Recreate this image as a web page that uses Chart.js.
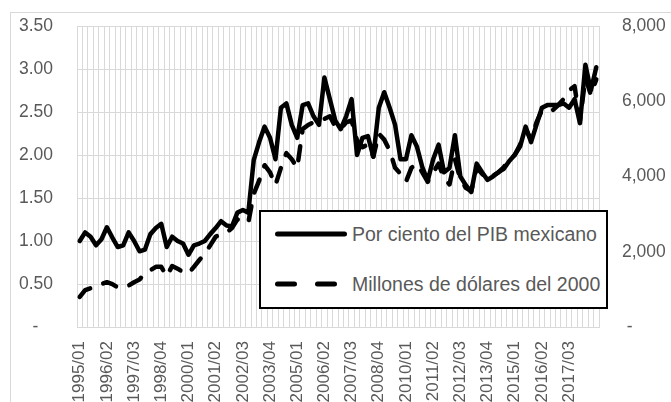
<!DOCTYPE html>
<html>
<head>
<meta charset="utf-8">
<script src="https://cdn.jsdelivr.net/npm/chart.js@4"></script>
<style>
  body { margin: 0; background: #fff; overflow: hidden; }
  #wrap { position: relative; width: 671px; height: 402px; overflow: hidden; }
  #frame { position: absolute; left: 10px; top: 12px; width: 700px; height: 420px; border: 1px solid #d9d9d9; }
  #c { position: absolute; left: 0; top: 0; }
  #legend { position: absolute; left: 259px; top: 210px; width: 345px; height: 95px; border: 2px solid #000; background: #fff;
            font-family: 'Liberation Sans', Arial, sans-serif; font-size: 19.5px; color: #595959; }
  .row { position: absolute; left: 14px; height: 30px; display: flex; align-items: center; white-space: nowrap; }
  .row svg { margin-right: 5px; }
</style>
</head>
<body>
<div id="wrap">
  <div id="frame"></div>
  <canvas id="c" width="671" height="402"></canvas>
  <div id="legend"></div>
</div>
<script>
var quarters = [
  '1995/01','1995/02','1995/03','1995/04','1996/01','1996/02','1996/03','1996/04',
  '1997/01','1997/02','1997/03','1997/04','1998/01','1998/02','1998/03','1998/04',
  '1999/01','1999/02','1999/03','1999/04','2000/01','2000/02','2000/03','2000/04',
  '2001/01','2001/02','2001/03','2001/04','2002/01','2002/02','2002/03','2002/04',
  '2003/01','2003/02','2003/03','2003/04','2004/01','2004/02','2004/03','2004/04',
  '2005/01','2005/02','2005/03','2005/04','2006/01','2006/02','2006/03','2006/04',
  '2007/01','2007/02','2007/03','2007/04','2008/01','2008/02','2008/03','2008/04',
  '2009/01','2009/02','2009/03','2009/04','2010/01','2010/02','2010/03','2010/04',
  '2011/01','2011/02','2011/03','2011/04','2012/01','2012/02','2012/03','2012/04',
  '2013/01','2013/02','2013/03','2013/04','2014/01','2014/02','2014/03','2014/04',
  '2015/01','2015/02','2015/03','2015/04','2016/01','2016/02','2016/03','2016/04',
  '2017/01','2017/02','2017/03','2017/04','2018/01','2018/02','2018/03','2018/04'
];

var seriesNames = ['Por ciento del PIB mexicano', 'Millones de dólares del 2000'];

// por ciento del PIB (eje izquierdo)
var porCientoPIB = [
  1.00, 1.10, 1.05, 0.95, 1.02, 1.16, 1.04, 0.93, 0.95, 1.10,
  1.00, 0.88, 0.90, 1.08, 1.15, 1.20, 0.93, 1.05, 1.00, 0.97,
  0.84, 0.95, 0.97, 1.00, 1.08, 1.15, 1.23, 1.18, 1.17, 1.33,
  1.36, 1.33, 1.94, 2.15, 2.33, 2.20, 1.95, 2.55, 2.60, 2.35,
  2.20, 2.58, 2.60, 2.45, 2.35, 2.90, 2.65, 2.40, 2.30, 2.45,
  2.65, 2.00, 2.20, 2.22, 1.98, 2.55, 2.73, 2.55, 2.35, 1.95,
  1.95, 2.23, 2.10, 1.86, 1.70, 1.95, 2.12, 1.80, 1.85, 2.23,
  1.75, 1.65, 1.57, 1.90, 1.80, 1.71, 1.75, 1.80, 1.84, 1.93,
  2.00, 2.10, 2.33, 2.15, 2.35, 2.55, 2.58, 2.58, 2.58, 2.60,
  2.55, 2.65, 2.37, 3.05, 2.75, 3.02
];

// millones de dolares del 2000 (eje derecho)
var millonesDolares = [
  800, 980, 1030, 1100, 1140, 1190, 1140, 1050, 1050, 1100,
  1190, 1260, 1440, 1510, 1600, 1600, 1350, 1620, 1550, 1460,
  1420, 1600, 1780, 1940, 2170, 2400, 2470, 2510, 2630, 2860,
  2790, 2770, 3540, 3890, 4300, 4110, 3770, 4230, 4620, 4460,
  4230, 5260, 5370, 5440, 5490, 5530, 5600, 5330, 5260, 5440,
  5490, 4960, 4780, 4850, 4530, 5140, 4980, 4690, 4230, 4070,
  3860, 4230, 4340, 4110, 3860, 4110, 4340, 3950, 3790, 4460,
  3930, 3700, 3610, 4230, 4070, 3930, 4020, 4110, 4250, 4460,
  4570, 4850, 5260, 4980, 5440, 5760, 5760, 5760, 5900, 6060,
  6290, 6400, 5490, 6630, 6170, 6580
];

var labelEvery = 5;
var lastLabel = 90;
var fontFam = "'Liberation Sans', Arial, sans-serif";
var gridColor = '#d9d9d9';
var textColor = '#595959';
var clear = 'rgba(0,0,0,0)';

var ctx = document.getElementById('c').getContext('2d');
var chart = new Chart(ctx, {
  type: 'line',
  data: {
    labels: quarters,
    datasets: [{
      label: seriesNames[0],
      data: porCientoPIB,
      yAxisID: 'y',
      borderColor: '#000',
      borderWidth: 4.5,
      borderJoinStyle: 'round',
      borderCapStyle: 'round',
      pointRadius: 0,
      tension: 0
    }, {
      label: seriesNames[1],
      data: millonesDolares,
      yAxisID: 'y1',
      borderColor: '#000',
      borderWidth: 4.5,
      borderDash: [14, 14],
      borderJoinStyle: 'round',
      borderCapStyle: 'round',
      pointRadius: 0,
      tension: 0
    }]
  },
  options: {
    responsive: false,
    animation: false,
    devicePixelRatio: 1,
    layout: { padding: { top: 26, left: 0, right: 0, bottom: 0 } },
    plugins: { legend: { display: false }, tooltip: { enabled: false } },
    scales: {
      x: {
        offset: true,
        grid: { offset: true, color: gridColor, lineWidth: 1, drawTicks: false },
        border: { color: gridColor },
        ticks: {
          autoSkip: false, maxRotation: 90, minRotation: 90, padding: 14,
          color: textColor, font: { family: fontFam, size: 17 },
          callback: function(v, i) { return (i % labelEvery === 0 && i <= lastLabel) ? quarters[i] : ''; }
        },
        afterFit: function(s) { s.height = 75; }
      },
      y: {
        position: 'left', min: 0, max: 3.5,
        grid: { color: gridColor, lineWidth: 1, drawTicks: true, tickLength: 24, tickColor: clear },
        border: { display: false },
        ticks: {
          stepSize: 0.5, padding: 0, color: textColor, font: { family: fontFam, size: 17.5 },
          callback: function(v) { return v === 0 ? '-   ' : v.toFixed(2); }
        },
        afterFit: function(s) { s.width = 77; }
      },
      y1: {
        position: 'right', min: 0, max: 8000,
        grid: { drawOnChartArea: false, drawTicks: true, tickLength: 23, tickColor: clear },
        border: { display: false },
        ticks: {
          stepSize: 2000, padding: 0, color: textColor, font: { family: fontFam, size: 17.5 },
          callback: function(v) { return v === 0 ? ' -' : v.toLocaleString('en-US'); }
        },
        afterFit: function(s) { s.width = 72; }
      }
    }
  }
});

// leyenda en html, dentro del area del grafico
var legend = document.getElementById('legend');
chart.data.datasets.forEach(function(ds, i) {
  var row = document.createElement('div');
  row.className = 'row';
  row.style.top = (7 + i * 50) + 'px';
  var dash = ds.borderDash ? ' stroke-dasharray="17 23"' : '';
  row.innerHTML = '<svg width="72" height="10"><line x1="2.5" y1="5" x2="69.5" y2="5" stroke="#000" stroke-width="5" stroke-linecap="round"' + dash + '/></svg>' +
    '<span>' + ds.label + '</span>';
  legend.appendChild(row);
});
</script>
</body>
</html>
